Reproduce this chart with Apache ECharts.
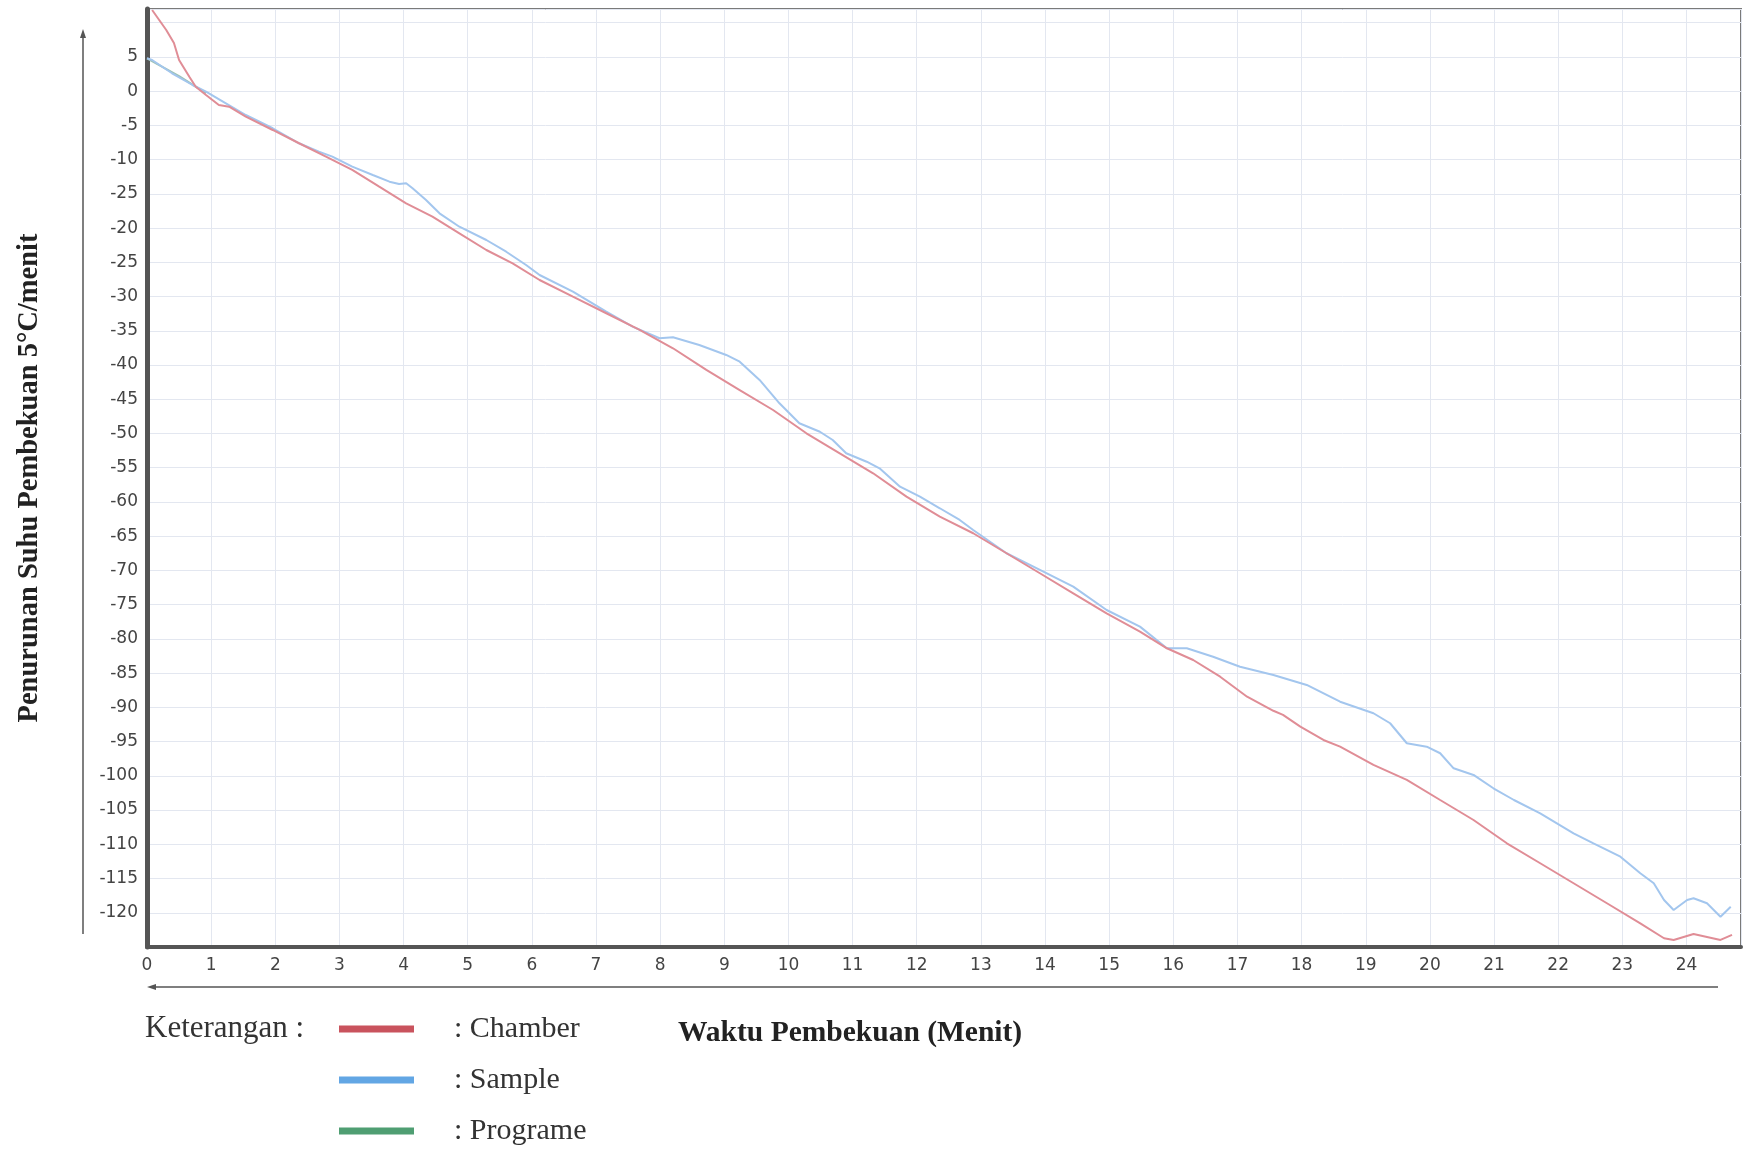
<!DOCTYPE html>
<html><head><meta charset="utf-8">
<script src="https://cdn.jsdelivr.net/npm/echarts@6/dist/echarts.min.js"></script>
<style>html,body{margin:0;padding:0;background:#fff}#c{width:1744px;height:1151px}</style>
</head><body><div id="c"></div>
<script>
// tick labels (hand-written on the original)
const xTickLabels = ['0','1','2','3','4','5','6','7','8','9','10','11','12','13','14','15','16','17','18','19','20','21','22','23','24'];
const yTickValues = [5,0,-5,-10,-15,-20,-25,-30,-35,-40,-45,-50,-55,-60,-65,-70,-75,-80,-85,-90,-95,-100,-105,-110,-115,-120];
const yTickLabels = ['5','0','-5','-10','-25','-20','-25','-30','-35','-40','-45','-50','-55','-60','-65','-70','-75','-80','-85','-90','-95','-100','-105','-110','-115','-120'];

// Chamber (red)
const chamberTime = [0.08,0.30,0.42,0.50,0.66,0.76,0.92,1.12,1.28,1.54,1.96,2.37,2.79,3.20,3.62,4.04,4.45,4.87,5.29,5.70,6.12,6.64,7.16,7.68,8.20,8.72,9.24,9.76,10.28,10.80,11.32,11.84,12.36,12.88,13.40,13.92,14.44,14.96,15.48,15.90,16.31,16.73,17.15,17.56,17.71,17.98,18.34,18.60,19.12,19.64,20.16,20.68,21.20,21.72,22.24,22.76,23.28,23.65,23.80,24.11,24.53,24.71];
const chamberTemp = [11.85,8.93,7.03,4.55,2.11,0.65,-0.56,-2.02,-2.27,-3.73,-5.67,-7.61,-9.57,-11.51,-13.95,-16.38,-18.33,-20.76,-23.20,-25.14,-27.58,-30.02,-32.44,-34.88,-37.55,-40.72,-43.65,-46.57,-49.97,-52.89,-55.81,-59.23,-62.15,-64.57,-67.49,-70.41,-73.34,-76.26,-78.94,-81.37,-83.08,-85.52,-88.44,-90.50,-91.10,-92.82,-94.76,-95.74,-98.41,-100.60,-103.53,-106.45,-109.85,-112.77,-115.69,-118.61,-121.54,-123.72,-123.97,-123.09,-123.97,-123.24];

// Sample (blue)
const sampleTime = [0.00,0.08,0.39,0.71,0.92,1.23,1.54,1.96,2.37,2.68,2.89,3.20,3.52,3.78,3.93,4.04,4.14,4.35,4.56,4.87,5.29,5.60,5.91,6.12,6.64,7.16,7.57,7.99,8.20,8.61,9.03,9.24,9.55,9.86,10.17,10.49,10.69,10.90,11.22,11.42,11.74,12.05,12.36,12.67,12.88,13.40,13.92,14.44,14.96,15.48,15.90,16.21,16.62,17.04,17.56,18.08,18.60,19.12,19.38,19.64,19.95,20.16,20.37,20.68,20.99,21.31,21.72,22.24,22.55,22.97,23.28,23.49,23.65,23.80,24.01,24.11,24.32,24.53,24.69];
const sampleTemp = [4.80,4.55,2.61,0.90,-0.08,-1.77,-3.48,-5.42,-7.61,-8.84,-9.57,-11.03,-12.24,-13.22,-13.56,-13.46,-14.19,-15.90,-17.84,-19.80,-21.74,-23.45,-25.39,-26.85,-29.29,-32.21,-34.40,-36.09,-35.95,-37.07,-38.53,-39.51,-42.18,-45.59,-48.51,-49.74,-50.95,-52.89,-54.12,-55.08,-57.77,-59.23,-60.92,-62.63,-64.09,-67.49,-69.93,-72.37,-75.78,-78.21,-81.37,-81.37,-82.60,-84.06,-85.27,-86.73,-89.17,-90.86,-92.32,-95.24,-95.74,-96.70,-98.90,-99.87,-101.82,-103.53,-105.47,-108.39,-109.85,-111.81,-114.23,-115.69,-118.13,-119.59,-118.13,-117.88,-118.61,-120.57,-119.11];

// Programe (green) - only visible at the start
const programTime = [0.00,0.50,0.92];
const programTemp = [4.80,2.20,-0.30];

const zip = (a, b) => a.map((v, i) => [v, b[i]]);

const chart = echarts.init(document.getElementById('c'), null, {renderer: 'canvas'});
const serif = '"Liberation Serif", "Times New Roman", serif';
chart.setOption({
  backgroundColor: '#ffffff',
  animation: false,
  grid: {left: 147, right: 3, top: 9, bottom: 204, show: true, borderColor: '#7a7a7a', borderWidth: 2},
  xAxis: {
    type: 'value', min: 0, max: 24.85, interval: 1,
    axisLine: {show: true, onZero: false, lineStyle: {color: '#555', width: 4}},
    axisTick: {show: false},
    axisLabel: {
      margin: 10, color: '#444', fontSize: 17, fontFamily: 'DejaVu Sans',
      formatter: v => (Number.isInteger(v) && v >= 0 && v <= 24) ? xTickLabels[v] : ''
    },
    splitLine: {show: true, lineStyle: {color: '#e3e7f0', width: 1}}
  },
  yAxis: {
    type: 'value', min: -125, max: 12, interval: 5,
    name: 'Penurunan Suhu Pembekuan 5°C/menit',
    nameLocation: 'middle', nameGap: 103, nameRotate: 90,
    nameTextStyle: {fontFamily: serif, fontWeight: 'bold', fontSize: 28.5, color: '#222'},
    axisLine: {show: true, onZero: false, lineStyle: {color: '#555', width: 5}},
    axisTick: {show: false},
    axisLabel: {
      margin: 9, color: '#444', fontSize: 17, fontFamily: 'DejaVu Sans',
      formatter: v => { const i = yTickValues.indexOf(Math.round(v)); return (i >= 0 && Math.abs(v - Math.round(v)) < 1e-6) ? yTickLabels[i] : ''; }
    },
    splitLine: {show: true, lineStyle: {color: '#e3e7f0', width: 1}}
  },
  legend: {
    orient: 'vertical', left: 339, top: 1014, padding: 0, itemWidth: 75, itemHeight: 7, itemGap: 21,
    icon: 'rect', selectedMode: false,
    formatter: n => ': ' + n,
    textStyle: {fontFamily: serif, fontSize: 30, color: '#333', padding: [0, 0, 0, 35], lineHeight: 30},
    data: [
      {name: 'Chamber', itemStyle: {color: '#c9535d'}},
      {name: 'Sample', itemStyle: {color: '#62a6e4'}},
      {name: 'Programe', itemStyle: {color: '#4f9e72'}}
    ]
  },
  series: [
    {name: 'Programe', type: 'line', data: zip(programTime, programTemp), showSymbol: false, symbol: 'none',
     lineStyle: {color: '#9cc2b4', width: 2}, itemStyle: {color: '#4f9e72'}, z: 1},
    {name: 'Sample', type: 'line', data: zip(sampleTime, sampleTemp), showSymbol: false, symbol: 'none',
     lineStyle: {color: '#a3c6ee', width: 2}, itemStyle: {color: '#62a6e4'}, z: 2},
    {name: 'Chamber', type: 'line', data: zip(chamberTime, chamberTemp), showSymbol: false, symbol: 'none',
     lineStyle: {color: '#e08d96', width: 2}, itemStyle: {color: '#c9535d'}, z: 3}
  ],
  graphic: [
    {type: 'line', shape: {x1: 83, y1: 36, x2: 83, y2: 934}, style: {stroke: '#555', lineWidth: 1.5}},
    {type: 'polygon', shape: {points: [[83, 29], [80, 38], [86, 38]]}, style: {fill: '#555'}},
    {type: 'line', shape: {x1: 154, y1: 987, x2: 1718, y2: 987}, style: {stroke: '#555', lineWidth: 1.5}},
    {type: 'polygon', shape: {points: [[147, 987], [156, 984], [156, 990]]}, style: {fill: '#555'}},
    {type: 'text', x: 145, y: 1029, style: {text: 'Keterangan :', font: '31px ' + serif, fill: '#333', verticalAlign: 'middle'}},
    {type: 'text', x: 678, y: 1033, style: {text: 'Waktu Pembekuan (Menit)', font: 'bold 29.5px ' + serif, fill: '#222', verticalAlign: 'middle'}}
  ]
});
</script>
</body></html>
